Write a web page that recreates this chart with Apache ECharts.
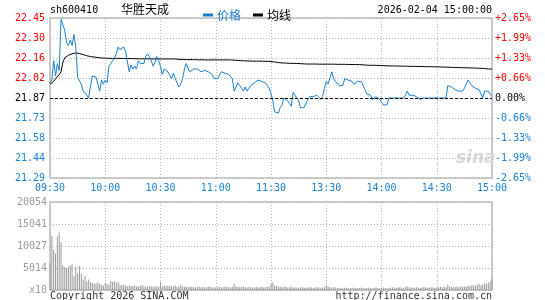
<!DOCTYPE html>
<html>
<head>
<meta charset="utf-8">
<script src="https://cdn.jsdelivr.net/npm/echarts@6/dist/echarts.min.js"></script>
<style>
html, body { margin: 0; padding: 0; background: #fff; }
#chart { width: 545px; height: 300px; }
</style>
</head>
<body>
<div id="chart"></div>
<script>
// 昨收 / 代码
var prevClose = 21.87;
var code = 'sh600410';
var stockName = '华胜天成';
var dateText = '2026-02-04 15:00:00';

var timeLabels = ['09:30', '10:00', '10:30', '11:00', '11:30', '13:30', '14:00', '14:30', '15:00'];
var priceLabels = ['21.29', '21.44', '21.58', '21.73', '21.87', '22.02', '22.16', '22.30', '22.45'];
var pctLabels = ['-2.65%', '-1.99%', '-1.33%', '-0.66%', '0.00%', '+0.66%', '+1.33%', '+1.99%', '+2.65%'];
var volLabels = ['x10', '5014', '10027', '15041', '20054'];
var volMax = 20054;

// 分时价格 (每分钟)
var price = [
    21.98, 22.00, 22.14, 22.03, 22.12, 22.07, 22.44, 22.43, 22.36, 22.27,
    22.25, 22.29, 22.25, 22.33, 22.24, 22.02, 22.03, 21.97, 21.92, 21.93,
    21.89, 21.87, 21.96, 22.03, 22.04, 22.02, 22.02, 21.92, 22.00, 21.97,
    22.00, 21.98, 22.10, 22.12, 22.14, 22.16, 22.19, 22.24, 22.22, 22.21,
    22.24, 22.21, 22.21, 22.06, 22.11, 22.08, 22.10, 22.08, 22.14, 22.12,
    22.12, 22.12, 22.17, 22.19, 22.17, 22.14, 22.10, 22.13, 22.17, 22.14,
    22.10, 22.04, 22.08, 22.08, 22.06, 22.05, 22.01, 22.05, 22.01, 21.98,
    21.95, 21.97, 22.01, 22.08, 22.12, 22.08, 22.06, 22.07, 22.08, 22.09,
    22.08, 22.07, 22.06, 22.05, 22.07, 22.06, 22.06, 22.05, 22.04, 22.01,
    22.01, 22.01, 22.00, 22.06, 22.05, 22.05, 22.05, 22.04, 22.04, 22.01,
    21.92, 21.93, 21.98, 21.96, 21.94, 21.92, 21.95, 21.92, 21.94, 21.96,
    21.96, 21.98, 21.98, 22.00, 22.00, 21.99, 21.99, 21.98, 21.96, 21.94,
    21.90, 21.85, 21.77, 21.76, 21.76, 21.80, 21.82, 21.87, 21.86, 21.85,
    21.83, 21.81, 21.91, 21.92, 21.87, 21.85, 21.80, 21.80, 21.80, 21.81,
    21.86, 21.88, 21.87, 21.88, 21.89, 21.89, 21.90, 21.86, 21.88, 21.94,
    21.99, 21.97, 21.97, 22.06, 22.01, 21.99, 21.99, 21.96, 21.96, 21.96,
    22.01, 22.00, 22.00, 22.00, 21.99, 21.97, 21.97, 21.99, 21.99, 21.99,
    21.99, 21.93, 21.90, 21.89, 21.89, 21.86, 21.87, 21.88, 21.87, 21.86,
    21.85, 21.82, 21.81, 21.82, 21.87, 21.87, 21.87, 21.87, 21.87, 21.87,
    21.87, 21.87, 21.87, 21.89, 21.92, 21.89, 21.89, 21.89, 21.88, 21.88,
    21.87, 21.86, 21.86, 21.87, 21.87, 21.87, 21.86, 21.87, 21.87, 21.87,
    21.86, 21.87, 21.88, 21.87, 21.87, 21.87, 21.96, 21.96, 21.95, 21.96,
    21.93, 21.92, 21.92, 21.92, 21.92, 21.94, 21.97, 22.00, 21.99, 21.96,
    21.95, 21.94, 21.94, 21.93, 21.92, 21.87, 21.92, 21.92, 21.92, 21.92,
    21.88
];

// 均价
var avgPrice = [
    21.970, 21.980, 21.990, 22.010, 22.020, 22.040, 22.060, 22.130, 22.160, 22.170,
    22.180, 22.185, 22.190, 22.195, 22.196, 22.195, 22.192, 22.190, 22.185, 22.180,
    22.176, 22.173, 22.170, 22.169, 22.167, 22.165, 22.163, 22.161, 22.160, 22.159,
    22.158, 22.158, 22.157, 22.157, 22.157, 22.157, 22.157, 22.157, 22.157, 22.156,
    22.156, 22.156, 22.156, 22.155, 22.155, 22.155, 22.155, 22.154, 22.154, 22.154,
    22.154, 22.154, 22.154, 22.154, 22.154, 22.153, 22.153, 22.153, 22.153, 22.153,
    22.153, 22.153, 22.153, 22.153, 22.153, 22.153, 22.153, 22.153, 22.153, 22.153,
    22.150, 22.149, 22.149, 22.148, 22.148, 22.148, 22.148, 22.148, 22.148, 22.148,
    22.147, 22.147, 22.147, 22.147, 22.146, 22.146, 22.146, 22.146, 22.146, 22.146,
    22.146, 22.146, 22.146, 22.146, 22.146, 22.146, 22.146, 22.146, 22.146, 22.146,
    22.144, 22.143, 22.142, 22.141, 22.140, 22.139, 22.139, 22.138, 22.138, 22.138,
    22.137, 22.137, 22.137, 22.137, 22.137, 22.136, 22.136, 22.136, 22.136, 22.135,
    22.134, 22.133, 22.131, 22.129, 22.127, 22.125, 22.124, 22.123, 22.123, 22.122,
    22.121, 22.121, 22.121, 22.120, 22.120, 22.119, 22.119, 22.118, 22.117, 22.117,
    22.116, 22.116, 22.116, 22.116, 22.116, 22.115, 22.115, 22.115, 22.115, 22.115,
    22.115, 22.115, 22.115, 22.115, 22.115, 22.114, 22.114, 22.114, 22.114, 22.114,
    22.114, 22.113, 22.113, 22.113, 22.113, 22.112, 22.112, 22.112, 22.112, 22.111,
    22.110, 22.109, 22.108, 22.108, 22.107, 22.107, 22.107, 22.106, 22.106, 22.106,
    22.105, 22.104, 22.104, 22.103, 22.103, 22.103, 22.102, 22.102, 22.102, 22.102,
    22.101, 22.101, 22.101, 22.100, 22.100, 22.100, 22.099, 22.099, 22.099, 22.098,
    22.098, 22.098, 22.098, 22.097, 22.097, 22.097, 22.097, 22.096, 22.096, 22.096,
    22.096, 22.095, 22.095, 22.094, 22.094, 22.093, 22.093, 22.092, 22.092, 22.091,
    22.091, 22.091, 22.090, 22.090, 22.090, 22.089, 22.089, 22.088, 22.088, 22.087,
    22.087, 22.086, 22.086, 22.085, 22.085, 22.084, 22.083, 22.082, 22.081, 22.080,
    22.079
];

// 成交量
var volume = [
    6130, 12340, 9150, 8360, 12180, 13130, 10900, 5570, 5170, 5010,
    5330, 5570, 5970, 3180, 5330, 3740, 5490, 3740, 2390, 3180,
    1990, 2390, 1830, 1590, 1430, 1430, 1750, 1350, 1190, 1030,
    1590, 1430, 1190, 1990, 1830, 1990, 1590, 1830, 1190, 1030,
    1190, 1030, 870, 1030, 950, 870, 1030, 800, 870, 950,
    1190, 870, 800, 720, 950, 870, 800, 720, 870, 800,
    1830, 870, 1030, 950, 870, 950, 800, 870, 1030, 720,
    800, 1190, 870, 720, 800, 640, 720, 800, 640, 560,
    720, 800, 640, 720, 560, 640, 800, 720, 640, 560,
    560, 640, 720, 560, 640, 800, 720, 560, 640, 720,
    1430, 800, 720, 640, 720, 800, 640, 560, 720, 640,
    560, 640, 720, 560, 640, 720, 560, 640, 800, 720,
    1430, 1750, 1110, 950, 800, 720, 640, 800, 720, 560,
    640, 720, 560, 640, 560, 480, 560, 640, 560, 480,
    560, 640, 560, 480, 560, 640, 560, 480, 560, 640,
    1110, 800, 640, 560, 640, 560, 480, 560, 480, 400,
    480, 560, 480, 400, 480, 560, 480, 400, 480, 560,
    480, 400, 480, 560, 480, 400, 480, 560, 480, 400,
    480, 560, 480, 400, 480, 560, 640, 560, 480, 560,
    640, 560, 480, 720, 800, 640, 560, 480, 560, 640,
    560, 480, 560, 640, 560, 480, 560, 640, 560, 480,
    560, 640, 720, 640, 720, 640, 1270, 800, 720, 640,
    720, 800, 640, 720, 800, 720, 800, 950, 870, 1030,
    1110, 950, 1190, 1350, 1110, 1270, 1510, 1350, 1670, 1990,
    2620
];

var blue = '#1a7fd0';
var red = '#ff0000';
var labelFont = 'DejaVu Sans Mono';

var steps = [];
for (var i = 0; i < price.length; i++) steps.push(i);

// 价格换算为刻度单位 (每格 0.6625%)
var unit = prevClose * 0.006625;
function toStep(p) { return (p - prevClose) / unit; }
var priceData = price.map(toStep);
var avgData = avgPrice.map(toStep);

function tickColor(idx) {
    if (idx > 4) return red;
    if (idx < 4) return blue;
    return '#000';
}

var dotted = { color: '#b4b4b4', type: [1, 2], width: 1 };

var myChart = echarts.init(document.getElementById('chart'));
var option = {
    animation: false,
    textStyle: { fontFamily: labelFont },
    legend: {
        left: 198,
        top: 4,
        itemWidth: 10,
        itemHeight: 3,
        itemGap: 12,
        icon: 'rect',
        textStyle: { fontFamily: 'Noto Sans CJK SC', fontSize: 12, padding: [0, 0, 0, -1] },
        data: [
            { name: '价格', textStyle: { color: blue } },
            { name: '均线', textStyle: { color: '#000' } }
        ]
    },
    grid: [
        { left: 50, top: 18, width: 442, height: 160, show: true, borderColor: '#999', borderWidth: 1 },
        { left: 50, top: 202, width: 442, height: 88, show: true, borderColor: '#999', borderWidth: 1 }
    ],
    xAxis: [{
        gridIndex: 0,
        type: 'category',
        data: steps,
        boundaryGap: false,
        axisLine: { show: false },
        axisTick: { show: false },
        axisLabel: {
            interval: 29,
            margin: 5,
            color: blue,
            fontFamily: labelFont,
            fontSize: 10,
            formatter: function (v, idx) { return timeLabels[idx / 30]; }
        },
        splitLine: { show: true, interval: 29, lineStyle: dotted }
    }, {
        gridIndex: 1,
        type: 'category',
        data: steps,
        boundaryGap: false,
        axisLine: { show: false },
        axisTick: { show: false },
        axisLabel: { show: false },
        splitLine: { show: true, interval: 29, lineStyle: dotted }
    }],
    yAxis: [{
        gridIndex: 0,
        type: 'value',
        min: -4,
        max: 4,
        interval: 1,
        axisLine: { show: false },
        axisTick: { show: false },
        axisLabel: {
            margin: 5,
            fontFamily: labelFont,
            fontSize: 10,
            formatter: function (v) { return priceLabels[v + 4]; },
            color: function (v) { return tickColor(v + 4); }
        },
        splitLine: { show: true, lineStyle: dotted }
    }, {
        gridIndex: 0,
        type: 'value',
        position: 'right',
        min: -4,
        max: 4,
        interval: 1,
        axisLine: { show: false },
        axisTick: { show: false },
        axisLabel: {
            margin: 3,
            fontFamily: labelFont,
            fontSize: 10,
            formatter: function (v) { return pctLabels[v + 4]; },
            color: function (v) { return tickColor(v + 4); }
        },
        splitLine: { show: false }
    }, {
        gridIndex: 1,
        type: 'value',
        min: 0,
        max: volMax,
        interval: volMax / 4,
        axisLine: { show: false },
        axisTick: { show: false },
        axisLabel: {
            margin: 3,
            color: '#999',
            fontFamily: labelFont,
            fontSize: 10,
            formatter: function (v) { return volLabels[Math.round(v / (volMax / 4))]; }
        },
        splitLine: { show: true, lineStyle: dotted }
    }],
    series: [{
        name: '价格',
        type: 'line',
        xAxisIndex: 0,
        yAxisIndex: 0,
        data: priceData,
        showSymbol: false,
        lineStyle: { color: blue, width: 1 },
        itemStyle: { color: blue },
        markLine: {
            silent: true,
            symbol: 'none',
            label: { show: false },
            lineStyle: { color: '#000', type: [3, 2], width: 1 },
            data: [{ yAxis: 0 }]
        },
        z: 3
    }, {
        name: '均线',
        type: 'line',
        xAxisIndex: 0,
        yAxisIndex: 0,
        data: avgData,
        showSymbol: false,
        lineStyle: { color: '#000', width: 1 },
        itemStyle: { color: '#000' },
        z: 2
    }, {
        name: '成交量',
        type: 'bar',
        xAxisIndex: 1,
        yAxisIndex: 2,
        data: volume,
        barWidth: 1,
        itemStyle: { color: '#999' }
    }],
    graphic: [
        { type: 'text', left: 50, top: 5, style: { text: code, font: '10px "DejaVu Sans Mono"', fill: '#000' } },
        { type: 'text', left: 121, top: 3, style: { text: stockName, font: '12px "Noto Sans CJK SC"', fill: '#000' } },
        { type: 'text', right: 53, top: 5, style: { text: dateText, font: '10px "DejaVu Sans Mono"', fill: '#000' } },
        { type: 'text', left: 456, top: 150, style: { text: 'sina', font: 'italic bold 17px "DejaVu Sans"', fill: '#d8d8d8' } },
        { type: 'text', left: 50, top: 291, style: { text: 'Copyright 2026 SINA.COM', font: '10px "DejaVu Sans Mono"', fill: '#333' } },
        { type: 'text', right: 53, top: 291, style: { text: 'http://finance.sina.com.cn', font: '10px "DejaVu Sans Mono"', fill: '#333' } }
    ]
};
myChart.setOption(option);
</script>
</body>
</html>
